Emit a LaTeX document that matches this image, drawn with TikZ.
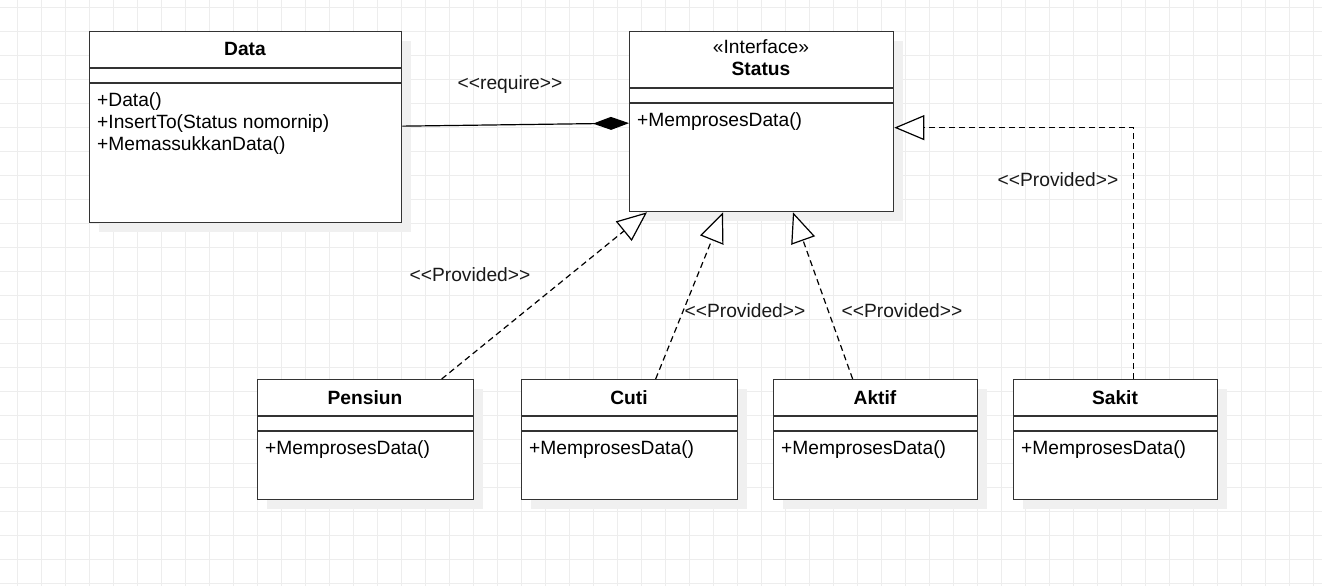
\documentclass[tikz,border=0pt]{standalone}
\usepackage{fontspec}
\setmainfont{Liberation Sans}
\usetikzlibrary{arrows.meta,positioning}

% double angle brackets without the TeX ligature
\newcommand{\dlt}{<\kern0pt<}
\newcommand{\dgt}{>\kern0pt>}

\begin{document}
\begin{tikzpicture}[
    x=1pt, y=-1pt,
    font=\fontsize{19.2}{22}\selectfont,
    classbox/.style={rectangle, draw=black!80, line width=1.3pt, fill=white,
                     inner sep=0pt, anchor=north west},
    shadowbox/.style={rectangle, fill=black!6, inner sep=0pt, anchor=north west},
    divider/.style={draw=black!80, line width=1.3pt},
    title/.style={font=\fontsize{19.2}{22}\selectfont\bfseries, anchor=base, inner sep=0pt},
    op/.style={anchor=base west, inner sep=0pt},
    tag/.style={inner sep=0pt, anchor=base, text=black!90},
    gridline/.style={draw=black!7, line width=0.8pt},
    provided/.style={line width=1.2pt, dash pattern=on 6pt off 4pt,
                     -{Triangle[length=30pt, width=25pt, fill=white]}},
    require/.style={line width=1.2pt, -{Diamond[length=36pt, width=13pt]}}
]
    \useasboundingbox[fill=white] (0,0) rectangle (1322,586);

    % background grid
    \foreach \gx in {17,41,...,1313}
        \draw[gridline] (\gx,0) -- (\gx,586);
    \foreach \gy in {7,31,...,583}
        \draw[gridline] (0,\gy) -- (1322,\gy);

    % Data (left)
    \node[shadowbox, minimum width=312pt, minimum height=191pt] (datashadow) at (99,41) {};
    \node[classbox, minimum width=312pt, minimum height=191pt] (data) at (89,31) {};
    \draw[divider] ([yshift=-37pt]data.north west) -- ([yshift=-37pt]data.north east);
    \draw[divider] ([yshift=-52pt]data.north west) -- ([yshift=-52pt]data.north east);
    \node[title] (datatitle) at (245,56) {Data};
    \node[op] (dataop1) at (97,106) {+Data()};
    \node[op] (dataop2) at (97,128) {+InsertTo(Status nomornip)};
    \node[op] (dataop3) at (97,150) {+MemassukkanData()};

    % Status interface (center)
    \node[shadowbox, minimum width=264pt, minimum height=180pt] (statusshadow) at (639,41) {};
    \node[classbox, minimum width=264pt, minimum height=180pt] (status) at (629,31) {};
    \draw[divider] ([yshift=-57pt]status.north west) -- ([yshift=-57pt]status.north east);
    \draw[divider] ([yshift=-72pt]status.north west) -- ([yshift=-72pt]status.north east);
    \node[anchor=base, inner sep=0pt] (stereo) at (761,53.5) {«Interface»};
    \node[title] (statustitle) at (761,75.5) {Status};
    \node[op] (statusop) at (637,126) {+MemprosesData()};

    % implementing classes (bottom row)
    \foreach \nm/\x/\w/\ttl in {pensiun/257/216/Pensiun, cuti/521/216/Cuti,
                                aktif/773/204/Aktif, sakit/1013/204/Sakit} {
        \node[shadowbox, minimum width=\w*1pt, minimum height=120pt] at (\x+10,389) {};
        \node[classbox, minimum width=\w*1pt, minimum height=120pt] (\nm) at (\x,379) {};
        \draw[divider] ([yshift=-37pt]\nm.north west) -- ([yshift=-37pt]\nm.north east);
        \draw[divider] ([yshift=-52pt]\nm.north west) -- ([yshift=-52pt]\nm.north east);
        \node[title] (\nm-title) at (\x+\w/2,404.5) {\ttl};
        \node[op] (\nm-op) at (\x+8,454) {+MemprosesData()};
    }

    % composition
    \draw[require] ([yshift=1pt]data.east) -- ([yshift=-1.5pt]status.west);
    \node[tag] (requirelabel) at (510,89) {\dlt require\dgt};

    % realisations
    \draw[provided] ([xshift=76pt]pensiun.north) -- ([xshift=18pt]status.south west);
    \draw[provided] ([xshift=26pt]cuti.north) -- ([xshift=94pt]status.south west);
    \draw[provided] ([xshift=-23pt]aktif.north) -- ([xshift=164pt]status.south west);
    \draw[provided] ([xshift=18pt]sakit.north) |- ([yshift=-6pt]status.east);

    \node[tag] (pensiunlabel) at (470,281) {\dlt Provided\dgt};
    \node[tag] (cutilabel) at (745,317) {\dlt Provided\dgt};
    \node[tag] (aktiflabel) at (902,317) {\dlt Provided\dgt};
    \node[tag] (sakitlabel) at (1058,186) {\dlt Provided\dgt};
\end{tikzpicture}
\end{document}
